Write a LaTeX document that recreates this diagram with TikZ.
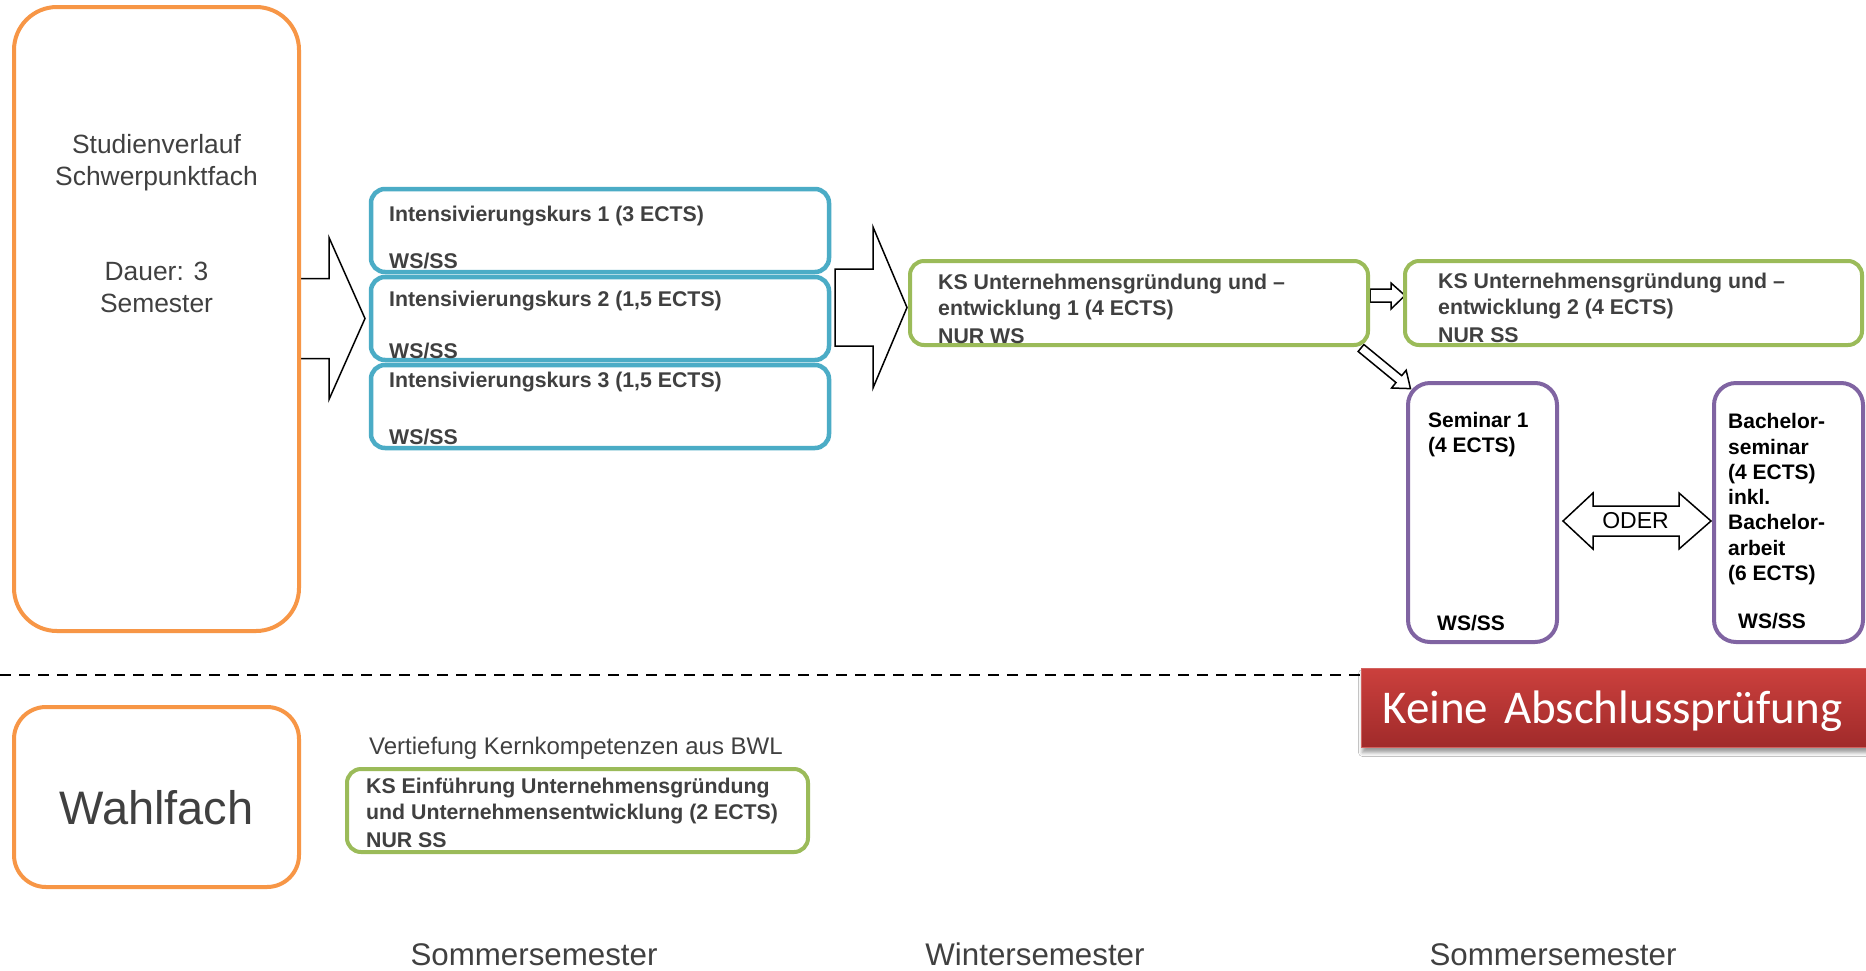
\documentclass[tikz,border=0pt]{standalone}
\usepackage{fontspec}
\setmainfont{Liberation Sans}
\newfontfamily\calibrifont{Carlito}
\usetikzlibrary{positioning, calc, shadows.blur, backgrounds}

\definecolor{svorange}{HTML}{F79646}
\definecolor{ikblue}{HTML}{4BACC6}
\definecolor{ksgreen}{HTML}{9BBB59}
\definecolor{sempurple}{HTML}{8064A2}
\definecolor{textgray}{HTML}{404040}
\definecolor{kaptop}{HTML}{CB403D}
\definecolor{kapbottom}{HTML}{A02A2A}
\definecolor{kapborder}{HTML}{D2625F}

\tikzset{
  svbox/.style={draw=svorange, line width=4pt, rounded corners=43pt, outer sep=0pt, inner sep=0pt},
  ikbox/.style={draw=ikblue, line width=4.5pt, rounded corners=14pt, minimum width=458pt, minimum height=83pt, outer sep=0pt, inner sep=0pt},
  ksbox/.style={draw=ksgreen, line width=4pt, rounded corners=14pt, minimum height=84pt, outer sep=0pt, inner sep=0pt},
  sembox/.style={draw=sempurple, line width=4pt, rounded corners=22pt, minimum width=149pt, minimum height=259pt, outer sep=0pt, inner sep=0pt},
  kurstext/.style={anchor=base west, inner sep=0pt, align=left, text=textgray, font=\fontsize{21.3}{25.5}\selectfont\bfseries},
  semtext/.style={kurstext, text=black, font=\fontsize{21}{25.3}\selectfont\bfseries},
  graytext/.style={inner sep=0pt, text=textgray},
  semester/.style={graytext, anchor=base, font=\fontsize{31.3}{36}\selectfont},
  blockarrow/.style={draw=black, fill=white, line width=1.5pt, line join=miter},
  kapbox/.style={top color=kaptop, bottom color=kapbottom, draw=kapborder, line width=1pt,
    text=white, font=\calibrifont\fontsize{47}{56}\selectfont, minimum height=79pt,
    text width=480pt, inner xsep=21pt, inner ysep=0pt, align=left, text height=32pt, text depth=1pt,
    blur shadow={shadow xshift=1pt, shadow yshift=-5pt, shadow blur radius=4pt}},
  dashedline/.style={draw=black, line width=2pt, dash pattern=on 11pt off 8pt},
}

\begin{document}
\begin{tikzpicture}[x=1pt, y=-1pt]
\useasboundingbox (0,0) rectangle (1866,970);
\clip (0,0) rectangle (1866,970);

% Schwerpunktfach
\node[svbox, minimum width=285pt, minimum height=624pt] (sv) at (156.5,319) {};
\node[graytext, align=center, font=\fontsize{26.4}{32}\selectfont] (svtitle) at (156.5,162.5) {Studienverlauf\\Schwerpunktfach};
\node[graytext, align=center, font=\fontsize{26.4}{32}\selectfont] (svdauer) at (156.5,287) {Dauer: 3\\Semester};

% Wahlfach
\node[svbox, rounded corners=32pt, minimum width=285pt, minimum height=180pt] (wf) at (156.5,797) {};
\node[graytext, font=\fontsize{47}{56}\selectfont] (wftitle) at ($(wf)+(0,11)$) {Wahlfach};

% Intensivierungskurse
\node[ikbox] (ik1) at (600,230.5) {};
\node[ikbox, below=5pt of ik1] (ik2) {};
\node[ikbox, below=5pt of ik2] (ik3) {};
\node[kurstext] at ($(ik1.north west)+(18,32)$) {Intensivierungskurs 1 (3 ECTS)};
\node[kurstext] at ($(ik1.north west)+(18,79.5)$) {WS/SS};
\node[kurstext] at ($(ik2.north west)+(18,29)$) {Intensivierungskurs 2 (1,5 ECTS)};
\node[kurstext] at ($(ik2.north west)+(18,81.5)$) {WS/SS};
\node[kurstext] at ($(ik3.north west)+(18,22.5)$) {Intensivierungskurs 3 (1,5 ECTS)};
\node[kurstext] at ($(ik3.north west)+(18,79)$) {WS/SS};

% KS Unternehmensgruendung (base = letzte Zeile)
\node[ksbox, minimum width=458pt] (ks1) at (1139,303) {};
\node[ksbox, minimum width=457pt, right=37pt of ks1] (ks2) {};
\node[kurstext] at ($(ks1.north west)+(28,82.5)$) {KS Unternehmensgründung und –\\entwicklung 1 (4 ECTS)\\[3pt]NUR WS};
\node[kurstext] at ($(ks2.north west)+(33,81.5)$) {KS Unternehmensgründung und –\\entwicklung 2 (4 ECTS)\\[3pt]NUR SS};

% Seminare
\node[sembox] (sem) at (1482.5,512.5) {};
\node[sembox, right=157pt of sem] (ba) {};
\node[semtext] at ($(sem.north west)+(20,69.5)$) {Seminar 1\\(4 ECTS)};
\node[semtext] at ($(sem.north west)+(29,247.5)$) {WS/SS};
\node[semtext] at ($(ba.north west)+(14,197.5)$) {Bachelor-\\seminar\\(4 ECTS)\\inkl.\\Bachelor-\\arbeit\\(6 ECTS)};
\node[semtext] at ($(ba.north west)+(24,245.5)$) {WS/SS};
\node[inner sep=0pt, font=\fontsize{23}{27}\selectfont] (oder) at ($(sem.east)!.5!(ba.west)+(0,8.5)$) {ODER};

% Wahlfach-Kurs
\node[ksbox, minimum width=461pt, minimum height=83pt] (ke) at (577.5,810.5) {};
\node[graytext, anchor=base west, font=\fontsize{24}{28}\selectfont] (ketitle) at ($(ke.north west)+(22,-14.5)$) {Vertiefung Kernkompetenzen aus BWL};
\node[kurstext] at ($(ke.north west)+(19,78.5)$) {KS Einführung Unternehmensgründung\\und Unternehmensentwicklung (2 ECTS)\\[3pt]NUR SS};

% Trennlinie und Hinweis
\node[kapbox, anchor=north west] (kap) at (1361,668) {Keine Abschlussprüfung};
\coordinate (dl) at (0,675);
\draw[dashedline] (dl) -- (dl -| kap.west);

% Semester
\node[semester] (ss1) at (534,965) {Sommersemester};
\node[semester] (ws) at (1035,965) {Wintersemester};
\node[semester] (ss2) at (1553,965) {Sommersemester};

% Blockpfeile
\begin{pgfonlayer}{background}
\fill[white] (0,0) rectangle (1866,970);
\draw[blockarrow] ($(sv.east |- ik2.west)+(0,-40)$) -- ++(30,0) -- ++(0,-41)
  -- ($(ik2.west)+(-6,0)$) -- ++(-36,81) -- ++(0,-41) -- ++(-30,0) -- cycle;
\draw[blockarrow] ($(ik2.east |- ks1.west)+(6,-34)$) -- ++(38,0) -- ++(0,-42)
  -- ($(ks1.west)+(-3,4.5)$) -- ++(-34,80.5) -- ++(0,-42) -- ++(-38,0) -- cycle;
\draw[blockarrow] ($(ks1.east)+(2,-14)$) -- ++(21,0) -- ++(0,-6)
  -- ($(ks2.west)+(0,-7.5)$) -- ++(-14,13.5) -- ++(0,-7) -- ++(-21,0) -- cycle;
\draw[blockarrow, shift={($(ks1.south east)+(-7,3)$)}, rotate=-39.4]
  (0,-4.5) -- (49,-4.5) -- (49,-11.5) -- (64,0) -- (49,11.5) -- (49,4.5) -- (0,4.5) -- cycle;
\draw[blockarrow] ($(sem.east |- oder)+(6,0)$) -- ++(30,-28) -- ++(0,13)
  -- ($(ba.west |- oder)+(-35,-15)$) -- ++(0,-13) -- ++(32,28) -- ++(-32,28) -- ++(0,-13)
  -- ($(sem.east |- oder)+(36,15)$) -- ++(0,13) -- cycle;
\end{pgfonlayer}
\end{tikzpicture}
\end{document}
